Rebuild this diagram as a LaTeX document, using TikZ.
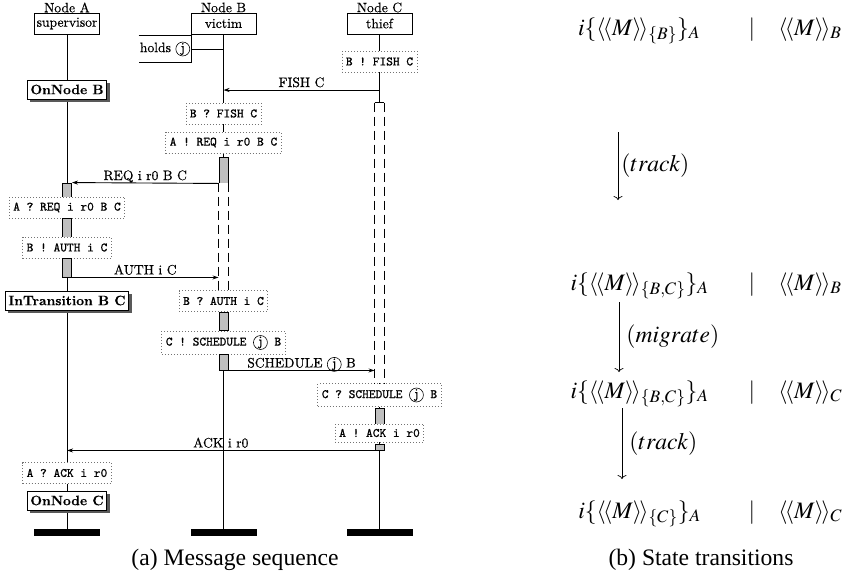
\documentclass[tikz,border=0pt]{standalone}
\usepackage{mathptmx}
\usepackage{fontspec}
\renewcommand\rmdefault{lmr}
\newfontfamily\timesfont{Liberation Serif}
\newfontfamily\mscrm{lmroman10-regular.otf}[FakeBold=0.5,BoldFont=lmroman10-bold.otf,BoldFeatures={FakeBold=0.3}]
\newfontfamily\msctt{lmmono10-regular.otf}[FakeBold=0.9]
\usetikzlibrary{arrows.meta,shadows,backgrounds}

\newcommand\mscfont{\fontsize{13.6}{16}\selectfont\mscrm}
\newcommand\mscmono{\fontsize{12.8}{15}\selectfont\msctt}
\newcommand\stfont{\fontsize{23.6}{28}\selectfont\timesfont}
\tikzset{jring/.style={circle,draw=black,solid,line width=0.6pt,inner sep=0.6pt,
  minimum size=0pt,font=\mscfont}}
\newcommand\jtok{\tikz[baseline=(jtok.base)]\node[jring](jtok){j};}

\begin{document}
\begin{tikzpicture}[x=1pt,y=-1pt,line width=0.9pt,
  lbl/.style={font=\mscfont,inner sep=1pt},
  inst/.style={draw,fill=white,minimum width=65,minimum height=21,inner sep=1pt,font=\mscfont},
  cmt/.style={fill=white,minimum height=26,inner xsep=1pt,inner ysep=0pt,font=\mscfont},
  msgbox/.style={draw=black!55,line width=0.7pt,dash pattern=on 0.7pt off 2.3pt,fill=white,
    minimum height=21,inner xsep=4pt,inner ysep=0pt,font=\mscmono},
  statebox/.style={draw,fill=white,minimum height=19,inner xsep=3pt,inner ysep=0pt,
    font=\mscfont\bfseries,drop shadow={shadow xshift=3pt,shadow yshift=-3pt,fill=black!65,opacity=1}},
  act/.style={draw,fill=black!25,minimum width=9,minimum height=#1,inner sep=0pt},
  susp/.style={fill=white,minimum width=9,minimum height=#1,inner sep=0pt},
  suspline/.style={dash pattern=on 9pt off 5pt},
  endbar/.style={fill=black,minimum width=66,minimum height=7,inner sep=0pt},
  msg/.style={-{Stealth[length=6pt,width=4pt]}},
  msglbl/.style={font=\mscfont,anchor=base,yshift=3pt,inner sep=0pt},
  st/.style={font=\stfont,anchor=base,inner sep=0pt},
  trans/.style={line width=0.7pt,-{To[length=4pt,width=9pt]}}]
\useasboundingbox (0,0) rectangle (843,582);

% instances
\foreach \n/\x/\role in {A/67/supervisor,B/223.5/victim,C/379.5/thief}{
  \node[lbl] (head\n) at (\x,7.5) {Node \n};
  \node[inst] (inst\n) at (\x,23.5) {\role};
  \node[endbar] (bar\n) at (\x,532.5) {};
}

% Node A
\node[statebox] (onB) at (67,89.5) {OnNode B};
\node[act=14] (actA1) at (67,190) {};
\node[msgbox] (rcvReq) at (67,207.5) {A ? REQ i r0 B C};
\node[act=19] (actA2) at (67,227.5) {};
\node[msgbox] (sndAuth) at (67,247.5) {B ! AUTH i C};
\node[act=19] (actA3) at (67,267.5) {};
\node[statebox] (inTr) at (67,300.5) {InTransition B C};
\node[msgbox] (rcvAck) at (67,473) {A ? ACK i r0};
\node[statebox] (onC) at (67,500.5) {OnNode C};

% Node B
\node[cmt] (holds) at (165,49) {holds \jtok};
\node[msgbox] (rcvFish) at (223.5,113.5) {B ? FISH C};
\node[msgbox] (sndReq) at (223.5,142.5) {A ! REQ i r0 B C};
\node[act=26] (actB1) at (223.5,170) {};
\node[susp=108] (suspB) at (223.5,237) {};
\node[msgbox] (rcvAuth) at (223.5,301) {B ? AUTH i C};
\node[act=18] (actB2) at (223.5,321) {};
\node[msgbox,minimum height=23] (sndSched) at (223.5,342.5) {C ! SCHEDULE \jtok{} B};
\node[act=16] (actB3) at (223.5,362) {};

% Node C
\node[msgbox] (sndFish) at (379.5,61.5) {B ! FISH C};
\coordinate (fishC) at (379.5,90);
\node[susp=280] (suspC) at (379.5,243) {};
\node[msgbox,minimum height=23] (rcvSched) at (379.5,395) {C ? SCHEDULE \jtok{} B};
\node[act=16] (actC1) at (379.5,416) {};
\node[msgbox,minimum height=18] (sndAck) at (379.5,433) {A ! ACK i r0};
\node[act=6] (actC2) at (379.5,447) {};

\begin{scope}[on background layer]
  \foreach \n in {A,B,C} \draw (inst\n) -- (bar\n);
\end{scope}

\foreach \s in {suspB,suspC}{
  \draw[suspline] (\s.north west) -- (\s.south west);
  \draw[suspline] (\s.north east) -- (\s.south east);
}
\draw (suspC.north west) -- (suspC.north east);

\draw (holds.north west) -- (holds.north east) -- (holds.south east) -- (holds.south west);
\draw (holds) -- (holds -| instB);

% messages
\draw[msg] (fishC) -- (fishC -| instB) node[msglbl,midway] {FISH C};
\draw[msg] (actB1.south west) -- (actA1.north east) node[msglbl,midway] {REQ i r0 B C};
\draw[msg] (actA3.south east) -- (actA3.south east -| suspB.west) node[msglbl,midway] {AUTH i C};
\draw[msg] (actB3.south east) -- (actB3.south east -| suspC.west) node[msglbl,midway] {SCHEDULE \jtok{} B};
\draw[msg] (actC2.south west) -- (actC2.south west -| instA) node[msglbl,midway] {ACK i r0};

% state transitions
\node[st] (s1l) at (639,35) {$i\{\langle\!\langle M\rangle\!\rangle_{\{B\}}\}_A$};
\node[st] (s1m) at (752,35) {$|$};
\node[st,anchor=base west] (s1r) at (778,35) {$\langle\!\langle M\rangle\!\rangle_B$};
\node[st] (s2l) at (639.5,290) {$i\{\langle\!\langle M\rangle\!\rangle_{\{B,C\}}\}_A$};
\node[st] (s2m) at (752,290) {$|$};
\node[st,anchor=base west] (s2r) at (778,290) {$\langle\!\langle M\rangle\!\rangle_B$};
\node[st] (s3l) at (639.5,398) {$i\{\langle\!\langle M\rangle\!\rangle_{\{B,C\}}\}_A$};
\node[st] (s3m) at (752,398) {$|$};
\node[st,anchor=base west] (s3r) at (778,398) {$\langle\!\langle M\rangle\!\rangle_C$};
\node[st] (s4l) at (639.5,518) {$i\{\langle\!\langle M\rangle\!\rangle_{\{C\}}\}_A$};
\node[st] (s4m) at (752,518) {$|$};
\node[st,anchor=base west] (s4r) at (778,518) {$\langle\!\langle M\rangle\!\rangle_C$};

\coordinate (t1a) at (618,132); \coordinate (t1b) at (618,200);
\coordinate (t2a) at (619,302); \coordinate (t2b) at (619,372);
\coordinate (t3a) at (622,408); \coordinate (t3b) at (622,479);
\draw[trans] (t1a) -- (t1b) node[midway,right=3pt,font=\stfont,inner sep=0pt] (tr1) {$(track)$};
\draw[trans] (t2a) -- (t2b) node[midway,right=7pt,font=\stfont,inner sep=0pt] (tr2) {$(migrate)$};
\draw[trans] (t3a) -- (t3b) node[midway,right=7pt,font=\stfont,inner sep=0pt] (tr3) {$(track)$};

% captions
\node[font=\stfont] (capA) at (235,560) {(a) Message sequence};
\node[font=\stfont] (capB) at (701,560) {(b) State transitions};
\end{tikzpicture}
\end{document}
